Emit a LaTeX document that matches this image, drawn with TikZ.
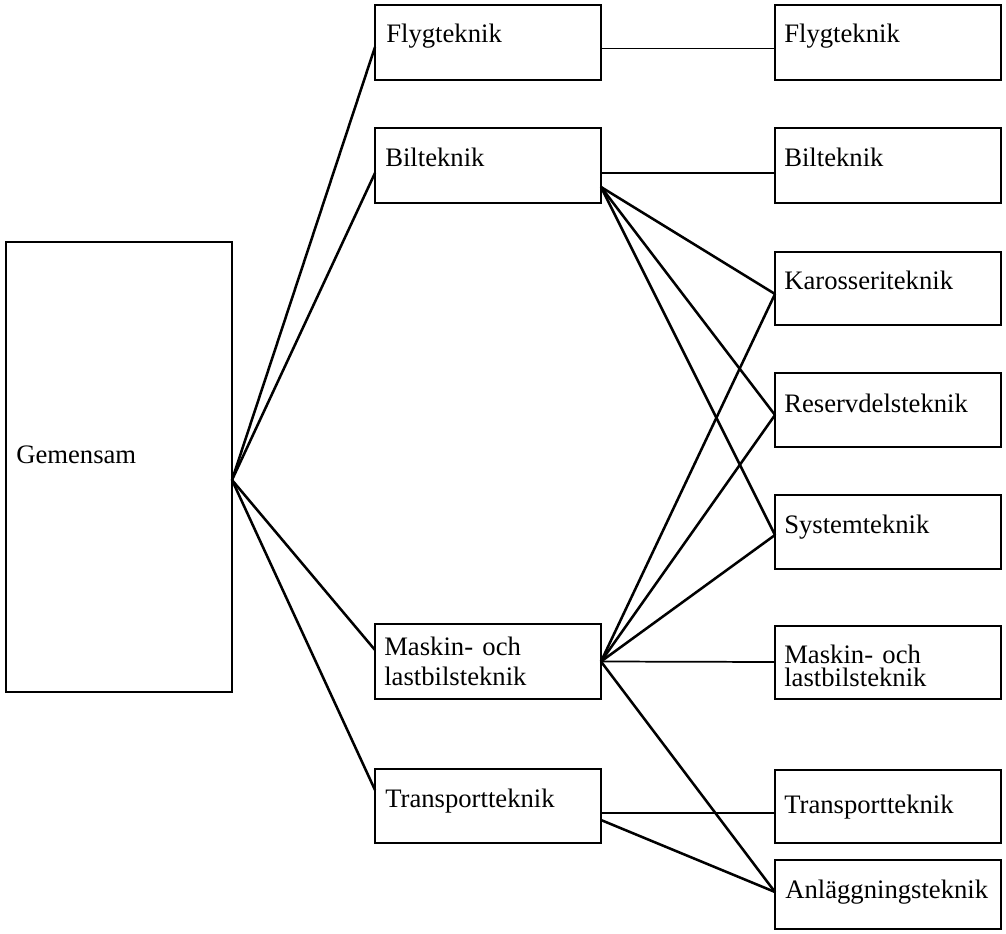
\documentclass[tikz,border=0pt]{standalone}
\usepackage{fontspec}
\setmainfont{Liberation Serif}
\usetikzlibrary{calc}
\begin{document}
\begin{tikzpicture}[x=0.75pt,y=-0.75pt,
  box/.style={draw, line width=1.4pt, inner sep=0pt, outer sep=0pt, anchor=north west, minimum width=169.5pt},
  lbl/.style={anchor=base west, inner sep=0pt, font=\fontsize{20}{22}\selectfont},
  conn/.style={line width=1.9pt},
  hconn/.style={line width=1.3pt}]
\useasboundingbox (0,0) rectangle (1006,934);
% boxes
\node[box, minimum height=337.5pt] (gem) at (6,242) {};
\node[box, minimum height=56.25pt] (m1) at (375,5) {};
\node[box, minimum height=56.25pt] (m2) at (375,128) {};
\node[box, minimum height=56.25pt] (m3) at (375,624) {};
\node[box, minimum height=55.5pt] (m4) at (375,769) {};
\node[box, minimum height=56.25pt] (r1) at (775,5) {};
\node[box, minimum height=56.25pt] (r2) at (775,128) {};
\node[box, minimum height=54.75pt] (r3) at (775,252) {};
\node[box, minimum height=55.5pt] (r4) at (775,373) {};
\node[box, minimum height=55.5pt] (r5) at (775,495) {};
\node[box, minimum height=54.75pt] (r6) at (775,626) {};
\node[box, minimum height=54.75pt] (r7) at (775,770) {};
\node[box, minimum height=51.75pt] (r8) at (775,860) {};
% texts
\node[lbl] (tgem) at (16,463) {Gemensam};
\node[lbl] (tm1) at (386,43) {Flygteknik};
\node[lbl] (tm2) at (385,167) {Bilteknik};
\node[lbl] (tm3a) at (384,655) {Maskin-\hspace{0.35em}och};
\node[lbl] (tm3b) at (384,685) {lastbilsteknik};
\node[lbl] (tm4) at (385,807) {Transportteknik};
\node[lbl] (tr1) at (784,43) {Flygteknik};
\node[lbl] (tr2) at (784,167) {Bilteknik};
\node[lbl] (tr3) at (784,290) {Karosseriteknik};
\node[lbl] (tr4) at (784,412) {Reservdelsteknik};
\node[lbl] (tr5) at (784,533) {Systemteknik};
\node[lbl] (tr6a) at (784,663) {Maskin-\hspace{0.35em}och};
\node[lbl] (tr6b) at (784,686) {lastbilsteknik};
\node[lbl] (tr7) at (784,813) {Transportteknik};
\node[lbl] (tr8) at (785,898) {Anläggningsteknik};
% connectors from Gemensam
\draw[conn] ($(gem.east)+(0,13)$) -- ($(m1.west)+(0,4.5)$);
\draw[conn] ($(gem.east)+(0,13)$) -- ($(m2.west)+(0,7.5)$);
\draw[conn] ($(gem.east)+(0,13)$) -- ($(m3.west)+(0,-11.5)$);
\draw[conn] ($(gem.east)+(0,13)$) -- ($(m4.west)+(0,-16)$);
% horizontal links
\draw[hconn] ($(m1.east)+(0,6)$) -- ($(r1.west)+(0,6)$);
\draw[hconn] ($(m2.east)+(0,7.5)$) -- ($(r2.west)+(0,7.5)$);
\draw[hconn] ($(m3.east)+(0,0)$) -- ($(r6.west)+(0,-0.5)$);
\draw[hconn] ($(m4.east)+(0,7)$) -- ($(r7.west)+(0,6.5)$);
% fan from Bilteknik
\draw[conn] ($(m2.east)+(0,21.5)$) -- ($(r3.west)+(0,5.5)$);
\draw[conn] ($(m2.east)+(0,21.5)$) -- ($(r4.west)+(0,5)$);
\draw[conn] ($(m2.east)+(0,21.5)$) -- ($(r5.west)+(0,3)$);
% fan from Maskin
\draw[conn] (m3.east) -- ($(r3.west)+(0,5.5)$);
\draw[conn] (m3.east) -- ($(r4.west)+(0,5)$);
\draw[conn] (m3.east) -- ($(r5.west)+(0,3)$);
\draw[conn] (m3.east) -- ($(r8.west)+(0,-2.5)$);
% Transport to Anlaggning
\draw[conn] ($(m4.east)+(0,14)$) -- ($(r8.west)+(0,-2.5)$);
\end{tikzpicture}
\end{document}
